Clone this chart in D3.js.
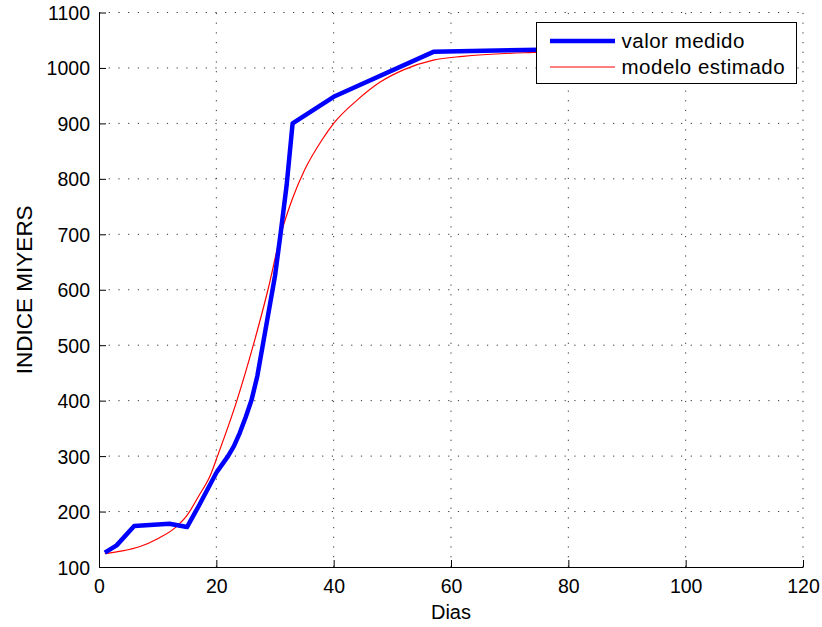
<!DOCTYPE html>
<html>
<head>
<meta charset="utf-8">
<script src="https://cdn.jsdelivr.net/npm/d3@7"></script>
<style>
  body { margin: 0; background: #fff; }
  text { font-family: "Liberation Sans", Arial, sans-serif; fill: #000; }
</style>
</head>
<body>
<div id="chart"></div>
<script>
// valores
const diasMedido  = [1, 3, 6, 12, 15, 17, 20, 21, 22, 23, 24, 25, 26, 27, 28, 29, 30, 31, 32, 33, 40, 57, 75, 85];
const valorMedido = [126, 139, 174, 178, 172, 210, 270, 285, 300, 318, 342, 370, 401, 445, 505, 565, 625, 705, 790, 900, 948, 1029, 1033, 1034];

const diasModelo  = [1, 4, 7, 10, 13, 15, 17, 19, 20.2, 23.5, 26.3, 28.8, 31, 33, 35, 38, 40, 44, 48, 52, 57, 62, 74, 85];
const valorModelo = [124, 129, 137, 151, 171, 193, 228, 266, 300, 400, 500, 600, 700, 765, 815, 870, 900, 942, 975, 997, 1014, 1021, 1028, 1030];

const xTicks = [0, 20, 40, 60, 80, 100, 120];
const yTicks = [100, 200, 300, 400, 500, 600, 700, 800, 900, 1000, 1100];
const leyenda = ["valor medido", "modelo estimado"];

const width = 822, height = 627;
const margin = {top: 12.5, left: 99, right: 19, bottom: 60};
const w = width - margin.left - margin.right,
      h = height - margin.top - margin.bottom;

const x = d3.scaleLinear().domain([0, 120]).range([0, w]);
const y = d3.scaleLinear().domain([100, 1100]).range([h, 0]);

const svg = d3.select("#chart").append("svg")
    .attr("width", width)
    .attr("height", height);

const g = svg.append("g")
    .attr("transform", "translate(" + margin.left + "," + margin.top + ")");

// rejilla punteada
g.append("g").selectAll("line")
  .data(xTicks.slice(1))
  .join("line")
    .attr("x1", d => x(d)).attr("x2", d => x(d))
    .attr("y1", h).attr("y2", 0)
    .attr("stroke", "#333").attr("stroke-width", 1)
    .attr("stroke-dasharray", "1.2,8.5");

g.append("g").selectAll("line")
  .data(yTicks.slice(1))
  .join("line")
    .attr("y1", d => y(d)).attr("y2", d => y(d))
    .attr("x1", 0).attr("x2", w)
    .attr("stroke", "#333").attr("stroke-width", 1)
    .attr("stroke-dasharray", "1.2,8.5");

// ejes
const xAxis = g.append("g")
    .attr("transform", "translate(0," + h + ")")
    .call(d3.axisBottom(x).tickValues(xTicks).tickFormat(d3.format("d"))
      .tickSizeInner(-7).tickSizeOuter(0).tickPadding(12));
const yAxis = g.append("g")
    .call(d3.axisLeft(y).tickValues(yTicks).tickFormat(d3.format("d"))
      .tickSizeInner(-7).tickSizeOuter(0).tickPadding(9));

[xAxis, yAxis].forEach(a => {
  a.select(".domain").attr("stroke", "#000").attr("stroke-width", 1);
  a.selectAll(".tick line").attr("stroke", "#000");
  a.selectAll("text")
    .style("font-family", "'Liberation Sans', Arial, sans-serif")
    .style("font-size", "19.5px")
    .attr("fill", "#000");
});
xAxis.selectAll("text").attr("dy", "0.71em");
yAxis.selectAll("text").attr("dy", "0.36em");

// curvas
const medido = diasMedido.map((d, i) => [d, valorMedido[i]]);
const modelo = diasModelo.map((d, i) => [d, valorModelo[i]]);

g.append("path")
    .datum(modelo)
    .attr("fill", "none")
    .attr("stroke", "#ff0000")
    .attr("stroke-width", 1.2)
    .attr("d", d3.line().x(d => x(d[0])).y(d => y(d[1])).curve(d3.curveMonotoneX));

g.append("path")
    .datum(medido)
    .attr("fill", "none")
    .attr("stroke", "#0000ff")
    .attr("stroke-width", 4.5)
    .attr("stroke-linejoin", "round")
    .attr("d", d3.line().x(d => x(d[0])).y(d => y(d[1])));

// etiquetas
svg.append("text")
    .attr("x", margin.left + w / 2)
    .attr("y", 619)
    .attr("text-anchor", "middle")
    .style("font-size", "20px")
    .text("Dias");

svg.append("text")
    .attr("transform", "translate(31.5," + (margin.top + h / 2) + ") rotate(-90)")
    .attr("text-anchor", "middle")
    .style("font-size", "22.5px")
    .text("INDICE MIYERS");

// leyenda
const leg = svg.append("g");
leg.append("rect")
    .attr("x", 536.5).attr("y", 22.5)
    .attr("width", 260).attr("height", 61)
    .attr("fill", "#fff").attr("stroke", "#000").attr("stroke-width", 1);

const estilos = [{c: "#0000ff", w: 4.5}, {c: "#ff0000", w: 1.2}];
leyenda.forEach((t, i) => {
  const yy = 41 + i * 26;
  leg.append("line")
      .attr("x1", 550).attr("x2", 615)
      .attr("y1", yy).attr("y2", yy)
      .attr("stroke", estilos[i].c).attr("stroke-width", estilos[i].w);
  leg.append("text")
      .attr("x", 621.5).attr("y", yy + 7.3)
      .style("font-size", "20.5px")
      .style("letter-spacing", "0.5px")
      .text(t);
});
</script>
</body>
</html>
